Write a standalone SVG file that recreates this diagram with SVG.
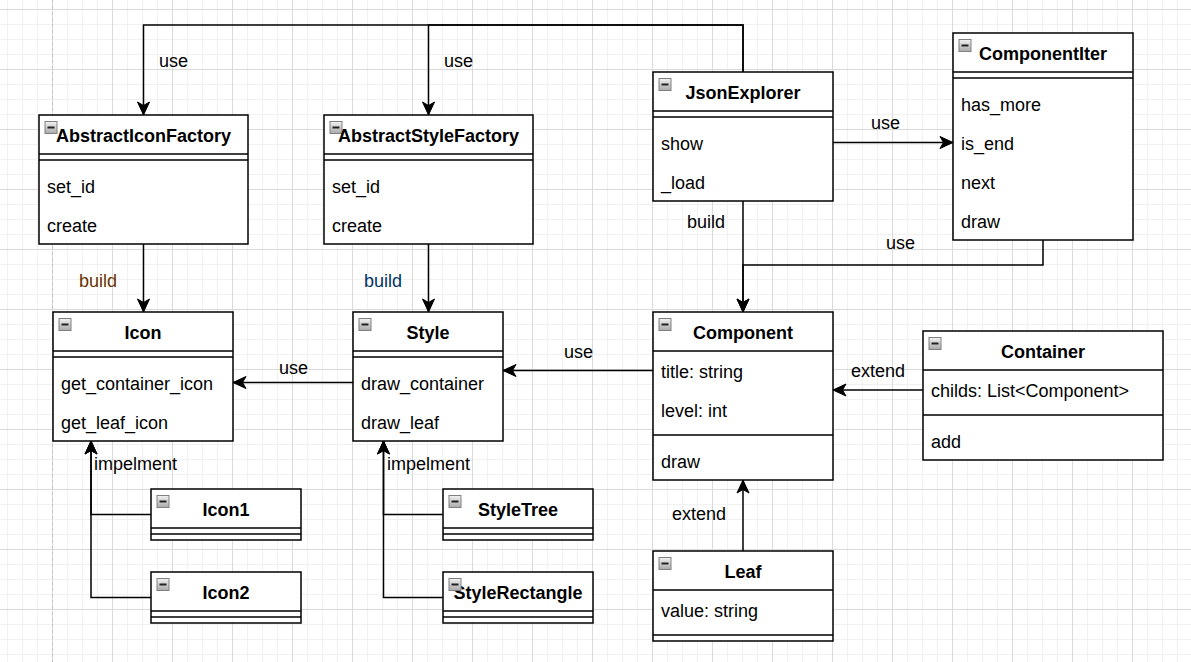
<svg xmlns="http://www.w3.org/2000/svg" xmlns:xlink="http://www.w3.org/1999/xlink" width="1191" height="662" viewBox="0 0 1191 662">
<style>
.box{fill:#fff;stroke:#000;stroke-width:1.5}
.sep{stroke:#000;stroke-width:1.5;fill:none}
.title{font-family:"Liberation Sans",Arial,sans-serif;font-size:18px;font-weight:bold;fill:#000;text-anchor:middle}
.item{font-family:"Liberation Sans",Arial,sans-serif;font-size:18px;fill:#000}
.lbl{font-family:"Liberation Sans",Arial,sans-serif;font-size:18px;fill:#000}
.edge{fill:none;stroke:#000;stroke-width:1.5;marker-end:url(#arr)}
</style>
<defs>
<pattern id="gMinor" width="15" height="15" patternUnits="userSpaceOnUse" x="7" y="9">
<path d="M0.5,0 V15 M0,0.5 H15" stroke="#f1f1f1" stroke-width="1" fill="none"/>
</pattern>
<pattern id="gMajor" width="60" height="60" patternUnits="userSpaceOnUse" x="52" y="9">
<path d="M0.5,0 V60 M0,0.5 H60" stroke="#dadada" stroke-width="1" fill="none"/>
</pattern>
<linearGradient id="cg" x1="0" y1="0" x2="0" y2="1">
<stop offset="0" stop-color="#f2f2f2"/>
<stop offset="1" stop-color="#a9a9a9"/>
</linearGradient>
<g id="collapse">
<rect x="0.5" y="0.5" width="12" height="12" fill="url(#cg)" stroke="#808080" stroke-width="1"/>
<line x1="3" y1="6.5" x2="10" y2="6.5" stroke="#222" stroke-width="2"/>
</g>
<marker id="arr" markerUnits="userSpaceOnUse" markerWidth="14" markerHeight="14" refX="13" refY="7" orient="auto" overflow="visible">
<path d="M0,1 L13,7 L0,13 L3.5,7 Z" fill="#000" stroke="#000" stroke-width="1"/>
</marker>
</defs>
<rect x="0" y="0" width="1191" height="662" fill="#fff"/>
<rect x="0" y="0" width="1191" height="662" fill="url(#gMinor)"/>
<rect x="0" y="0" width="1191" height="662" fill="url(#gMajor)"/>
<line x1="52.5" y1="0" x2="52.5" y2="662" stroke="#c2c2c2" stroke-width="1" stroke-dasharray="3,3"/>

<g id="connectors">
<path class="edge" d="M743,72 V25 H143.5 V115"/>
<path class="edge" d="M743,72 V25 H428.5 V115"/>
<path class="edge" d="M143.5,244 V312"/>
<path class="edge" d="M428.5,244 V312"/>
<path class="edge" d="M353,382.5 H233"/>
<path class="edge" d="M653,370.5 H503"/>
<path class="edge" d="M833,142.5 H953"/>
<path class="edge" d="M743,201 V312"/>
<path class="edge" d="M1043,240 V265 H743 V312"/>
<path class="edge" d="M923,390 H833"/>
<path class="edge" d="M743,551 V480"/>
<path class="edge" d="M151,514.5 H91 V441"/>
<path class="edge" d="M151,597.5 H91 V441"/>
<path class="edge" d="M443,514.5 H383.5 V441"/>
<path class="edge" d="M443,597.5 H383.5 V441"/>
<text class="lbl" x="159" y="67">use</text>
<text class="lbl" x="444" y="67">use</text>
<text class="lbl" x="79" y="287" style="fill:#663300">build</text>
<text class="lbl" x="364" y="287" style="fill:#003366">build</text>
<text class="lbl" x="279" y="374">use</text>
<text class="lbl" x="564" y="358">use</text>
<text class="lbl" x="871" y="129">use</text>
<text class="lbl" x="687" y="228">build</text>
<text class="lbl" x="886" y="249">use</text>
<text class="lbl" x="851" y="377">extend</text>
<text class="lbl" x="672" y="520">extend</text>
<text class="lbl" x="94" y="470">impelment</text>
<text class="lbl" x="387" y="470">impelment</text>
</g>

<g id="AbstractIconFactory">
<rect class="box" x="39" y="115" width="209" height="129"/>
<path class="sep" d="M39,154 H248 M39,160 H248"/>
<use xlink:href="#collapse" href="#collapse" x="44.5" y="121"/>
<text class="title" x="143.5" y="142">AbstractIconFactory</text>
<text class="item" x="47" y="193">set_id</text>
<text class="item" x="47" y="232">create</text>
</g>

<g id="AbstractStyleFactory">
<rect class="box" x="324" y="115" width="209" height="129"/>
<path class="sep" d="M324,154 H533 M324,160 H533"/>
<use xlink:href="#collapse" href="#collapse" x="329.5" y="121"/>
<text class="title" x="428.5" y="142">AbstractStyleFactory</text>
<text class="item" x="332" y="193">set_id</text>
<text class="item" x="332" y="232">create</text>
</g>

<g id="JsonExplorer">
<rect class="box" x="653" y="72" width="180" height="129"/>
<path class="sep" d="M653,111 H833 M653,117 H833"/>
<use xlink:href="#collapse" href="#collapse" x="658.5" y="78"/>
<text class="title" x="743" y="99">JsonExplorer</text>
<text class="item" x="661" y="150">show</text>
<text class="item" x="661" y="189">_load</text>
</g>

<g id="ComponentIter">
<rect class="box" x="953" y="33" width="180" height="207"/>
<path class="sep" d="M953,72 H1133 M953,78 H1133"/>
<use xlink:href="#collapse" href="#collapse" x="958.5" y="39"/>
<text class="title" x="1043" y="60">ComponentIter</text>
<text class="item" x="961" y="111">has_more</text>
<text class="item" x="961" y="150">is_end</text>
<text class="item" x="961" y="189">next</text>
<text class="item" x="961" y="228">draw</text>
</g>

<g id="Icon">
<rect class="box" x="53" y="312" width="180" height="129"/>
<path class="sep" d="M53,351 H233 M53,357 H233"/>
<use xlink:href="#collapse" href="#collapse" x="58.5" y="318"/>
<text class="title" x="143" y="339">Icon</text>
<text class="item" x="61" y="390">get_container_icon</text>
<text class="item" x="61" y="429">get_leaf_icon</text>
</g>

<g id="Style">
<rect class="box" x="353" y="312" width="150" height="129"/>
<path class="sep" d="M353,351 H503 M353,357 H503"/>
<use xlink:href="#collapse" href="#collapse" x="358.5" y="318"/>
<text class="title" x="428" y="339">Style</text>
<text class="item" x="361" y="390">draw_container</text>
<text class="item" x="361" y="429">draw_leaf</text>
</g>

<g id="Component">
<rect class="box" x="653" y="312" width="180" height="168"/>
<path class="sep" d="M653,351 H833 M653,435 H833"/>
<use xlink:href="#collapse" href="#collapse" x="658.5" y="318"/>
<text class="title" x="743" y="339">Component</text>
<text class="item" x="661" y="378">title: string</text>
<text class="item" x="661" y="417">level: int</text>
<text class="item" x="661" y="468">draw</text>
</g>

<g id="Container">
<rect class="box" x="923" y="331" width="240" height="129"/>
<path class="sep" d="M923,370 H1163 M923,415 H1163"/>
<use xlink:href="#collapse" href="#collapse" x="928.5" y="337"/>
<text class="title" x="1043" y="358">Container</text>
<text class="item" x="931" y="397">childs: List&lt;Component&gt;</text>
<text class="item" x="931" y="448">add</text>
</g>

<g id="Leaf">
<rect class="box" x="653" y="551" width="180" height="90"/>
<path class="sep" d="M653,590 H833 M653,635 H833"/>
<use xlink:href="#collapse" href="#collapse" x="658.5" y="557"/>
<text class="title" x="743" y="578">Leaf</text>
<text class="item" x="661" y="617">value: string</text>
</g>

<g id="Icon1">
<rect class="box" x="151" y="489" width="150" height="51"/>
<path class="sep" d="M151,528 H301 M151,534 H301"/>
<use xlink:href="#collapse" href="#collapse" x="156.5" y="495"/>
<text class="title" x="226" y="516">Icon1</text>
</g>

<g id="Icon2">
<rect class="box" x="151" y="572" width="150" height="51"/>
<path class="sep" d="M151,611 H301 M151,617 H301"/>
<use xlink:href="#collapse" href="#collapse" x="156.5" y="578"/>
<text class="title" x="226" y="599">Icon2</text>
</g>

<g id="StyleTree">
<rect class="box" x="443" y="489" width="150" height="51"/>
<path class="sep" d="M443,528 H593 M443,534 H593"/>
<use xlink:href="#collapse" href="#collapse" x="448.5" y="495"/>
<text class="title" x="518" y="516">StyleTree</text>
</g>

<g id="StyleRectangle">
<rect class="box" x="443" y="572" width="150" height="51"/>
<path class="sep" d="M443,611 H593 M443,617 H593"/>
<text class="title" x="518" y="599">StyleRectangle</text>
<use xlink:href="#collapse" href="#collapse" x="448.5" y="578"/>
</g>
</svg>
